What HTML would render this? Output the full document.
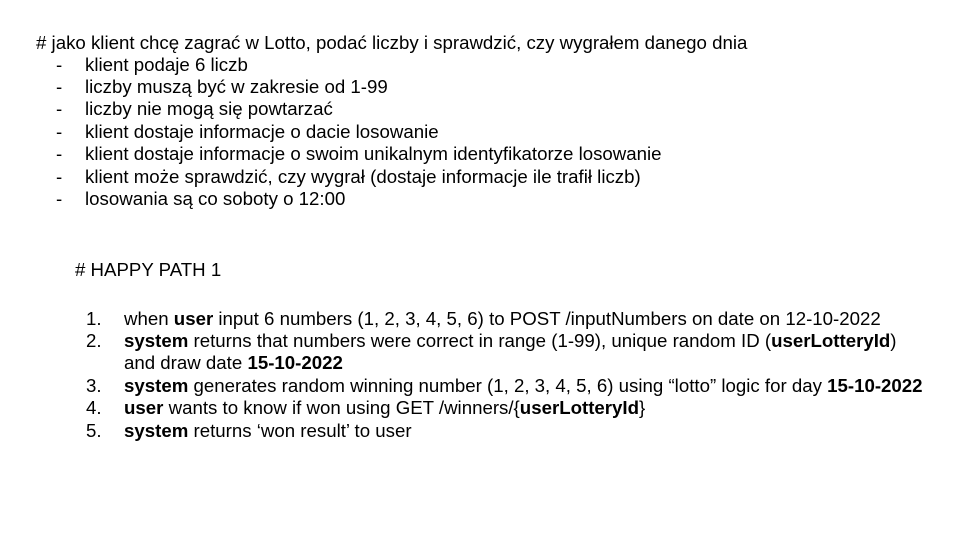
<!DOCTYPE html>
<html><head><meta charset="utf-8"><style>
body{margin:0;width:960px;height:540px;background:#fff;position:relative;overflow:hidden;font-family:"Liberation Sans",Arial,sans-serif;font-size:18.67px;color:#000}
.t{position:absolute;white-space:nowrap;line-height:22px}
b{font-weight:bold}
</style></head><body>
<div class="t" style="left:36px;top:32px">#&nbsp;jako klient chcę zagrać w Lotto, podać liczby i sprawdzić, czy wygrałem danego dnia</div>
<div class="t" style="left:56px;top:54px">-</div><div class="t" style="left:85px;top:54px">klient podaje 6 liczb</div>
<div class="t" style="left:56px;top:76px">-</div><div class="t" style="left:85px;top:76px">liczby muszą być w zakresie od 1-99</div>
<div class="t" style="left:56px;top:98px">-</div><div class="t" style="left:85px;top:98px">liczby nie mogą się powtarzać</div>
<div class="t" style="left:56px;top:121px">-</div><div class="t" style="left:85px;top:121px">klient dostaje informacje o dacie losowanie</div>
<div class="t" style="left:56px;top:143px">-</div><div class="t" style="left:85px;top:143px">klient dostaje informacje o swoim unikalnym identyfikatorze losowanie</div>
<div class="t" style="left:56px;top:166px">-</div><div class="t" style="left:85px;top:166px">klient może sprawdzić, czy wygrał (dostaje informacje ile trafił liczb)</div>
<div class="t" style="left:56px;top:188px">-</div><div class="t" style="left:85px;top:188px">losowania są co soboty o 12:00</div>

<div class="t" style="left:75px;top:259px"># HAPPY PATH 1</div>
<div class="t" style="left:86px;top:308px">1.</div><div class="t" style="left:124px;top:308px">when <b>user</b> input 6 numbers (1, 2, 3, 4, 5, 6) to POST /inputNumbers on date on 12-10-2022</div>
<div class="t" style="left:86px;top:330px">2.</div><div class="t" style="left:124px;top:330px"><b>system</b> returns that numbers were correct in range (1-99), unique random ID (<b>userLotteryId</b>)</div>
<div class="t" style="left:124px;top:352px">and draw date <b>15-10-2022</b></div>
<div class="t" style="left:86px;top:375px">3.</div><div class="t" style="left:124px;top:375px"><b>system</b> generates random winning number (1, 2, 3, 4, 5, 6) using “lotto” logic for day <b>15-10-2022</b></div>
<div class="t" style="left:86px;top:397px">4.</div><div class="t" style="left:124px;top:397px"><b>user</b> wants to know if won using GET /winners/{<b>userLotteryId</b>}</div>
<div class="t" style="left:86px;top:420px">5.</div><div class="t" style="left:124px;top:420px"><b>system</b> returns ‘won result’ to user</div>
</body></html>
